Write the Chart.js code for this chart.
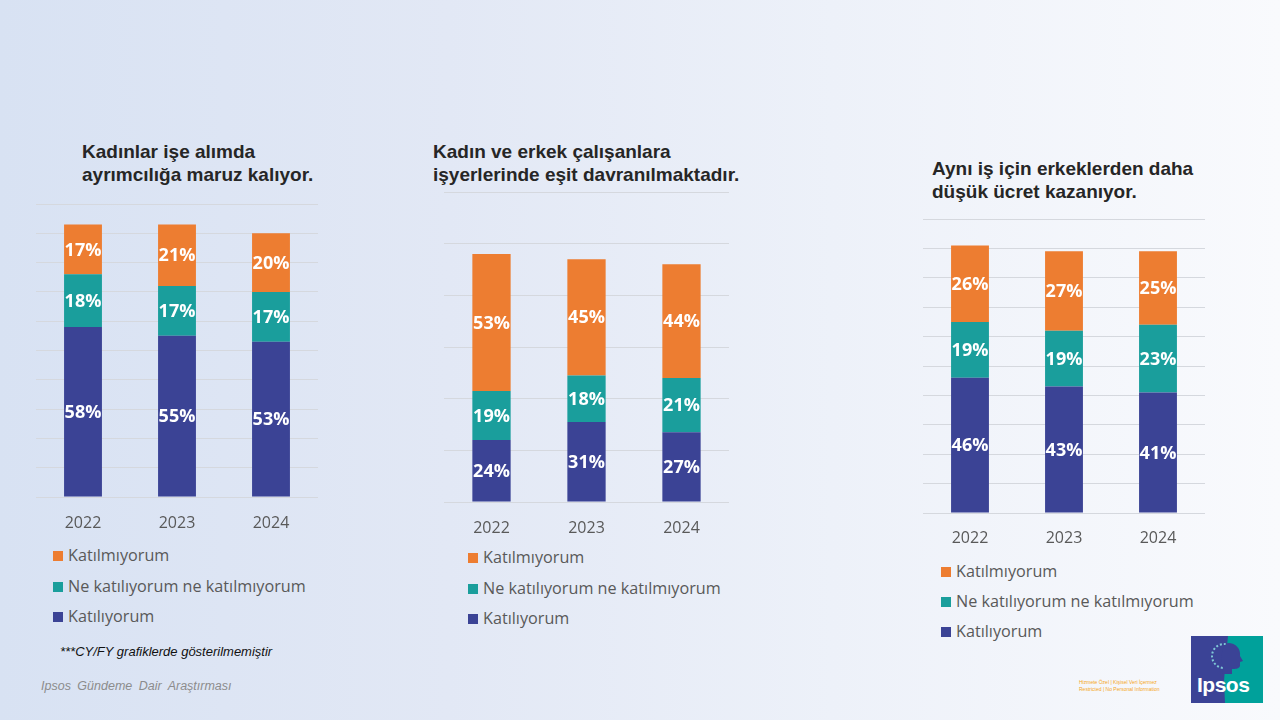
<!DOCTYPE html>
<html><head><meta charset="utf-8">
<script src="https://cdn.jsdelivr.net/npm/chart.js"></script>
<style>
html,body{margin:0;padding:0;}
body{width:1280px;height:720px;overflow:hidden;position:relative;
 background:linear-gradient(90deg,#d8e2f3 0%,#e2e8f5 35%,#edf1f9 65%,#f9fafd 100%);
 font-family:"Open Sans",sans-serif;}
.title{position:absolute;font-family:"Liberation Sans",Arial,sans-serif;font-weight:bold;font-size:19px;line-height:23px;color:#262626;letter-spacing:0px;white-space:nowrap;}
canvas{position:absolute;}
.legend{position:absolute;font-family:"Open Sans",sans-serif;font-size:16.2px;color:#595959;}
.legend .item{position:absolute;left:0;height:20px;line-height:20px;white-space:nowrap;}
.legend .sw{position:absolute;left:0;top:5px;width:10px;height:10px;}
.legend .txt{position:absolute;left:15px;top:-1px;}
.note{position:absolute;font-family:"Liberation Sans",Arial,sans-serif;font-style:italic;white-space:nowrap;}
#logo{position:absolute;left:1191px;top:636px;width:72px;height:67px;background:#00a19b;overflow:hidden;}
#logo .blue{position:absolute;left:0;top:0;width:72px;height:67px;background:#3b4396;clip-path:polygon(0 0,37px 0,35px 20px,33px 45px,34px 67px,0 67px);}
#logo .word{position:absolute;left:6px;top:37px;font-family:"Liberation Sans",Arial,sans-serif;font-weight:bold;font-size:21px;color:#fff;letter-spacing:-0.5px;}
#restricted{position:absolute;left:1079px;top:679px;font-family:"Liberation Sans",Arial,sans-serif;font-size:5px;line-height:7px;color:#f5a623;white-space:nowrap;}
</style>
</head>
<body>
<div id="titles"></div>
<canvas id="c1" width="282" height="343" style="left:36px;top:194px;width:282px;height:343px"></canvas>
<canvas id="c2" width="285" height="360" style="left:444px;top:182px;width:285px;height:360px"></canvas>
<canvas id="c3" width="282" height="344" style="left:923px;top:209px;width:282px;height:344px"></canvas>
<div id="legends"></div>
<div class="note" style="left:60px;top:644px;font-size:13px;color:#111;">***CY/FY grafiklerde gösterilmemiştir</div>
<div class="note" style="left:41px;top:679px;font-size:12.5px;color:#8c8c8c;word-spacing:3px;">Ipsos Gündeme Dair Araştırması</div>
<div id="restricted">Hizmete Özel | Kişisel Veri İçermez<br>Restricted | No Personal Information</div>
<div id="logo"><div class="blue"></div>
<svg width="72" height="67" style="position:absolute;left:0;top:0">
<circle cx="33" cy="20" r="12" fill="none" stroke="#7fc8d6" stroke-width="2" stroke-dasharray="2 2"/>
<path d="M37 7 C45 7 50 13 49 20 L52 25 L49 26 L49 30 C48 33 44 33 41 33 L41 38 L31 38 L33 30 C29 26 30 10 37 7 Z" fill="#3b4396"/>
</svg>
<div class="word">Ipsos</div></div>
<script>
const categories = ['2022', '2023', '2024'];
const seriesNames = ['Katılıyorum', 'Ne katılıyorum ne katılmıyorum', 'Katılmıyorum'];
const seriesColors = ['#3b4395', '#1a9e9c', '#ed7d31'];

const chart1Title = ['Kadınlar işe alımda', 'ayrımcılığa maruz kalıyor.'];
const chart1Agree = [58, 55, 53];
const chart1Neutral = [18, 17, 17];
const chart1Disagree = [17, 21, 20];

const chart2Title = ['Kadın ve erkek çalışanlara', 'işyerlerinde eşit davranılmaktadır.'];
const chart2Agree = [24, 31, 27];
const chart2Neutral = [19, 18, 21];
const chart2Disagree = [53, 45, 44];

const chart3Title = ['Aynı iş için erkeklerden daha', 'düşük ücret kazanıyor.'];
const chart3Agree = [46, 43, 41];
const chart3Neutral = [19, 19, 23];
const chart3Disagree = [26, 27, 25];

const valueLabels = {
  id: 'valueLabels',
  afterDatasetsDraw(chart) {
    const ctx = chart.ctx;
    ctx.save();
    ctx.font = 'bold 18px "Open Sans"';
    ctx.fillStyle = '#ffffff';
    ctx.textAlign = 'center';
    ctx.textBaseline = 'middle';
    chart.data.datasets.forEach((ds, i) => {
      const meta = chart.getDatasetMeta(i);
      meta.data.forEach((el, j) => {
        ctx.fillText(ds.data[j] + '%', el.x, (el.y + el.base) / 2 + 1);
      });
    });
    ctx.restore();
  }
};

function makeChart(id, agree, neutral, disagree, yMax, step, padTop, tickPad) {
  const values = [agree, neutral, disagree];
  new Chart(document.getElementById(id), {
    type: 'bar',
    data: {
      labels: categories,
      datasets: values.map((v, i) => ({
        label: seriesNames[i],
        data: v,
        backgroundColor: seriesColors[i],
        borderWidth: 0,
        categoryPercentage: 1,
        barPercentage: 0.403
      }))
    },
    options: {
      responsive: false,
      animation: false,
      layout: { padding: { top: padTop, left: 0, right: 0, bottom: 0 } },
      plugins: { legend: { display: false }, tooltip: { enabled: false } },
      scales: {
        x: {
          stacked: true,
          grid: { display: false, drawTicks: false },
          border: { display: false },
          ticks: { color: '#595959', font: { family: 'Open Sans', size: 16 }, padding: tickPad },
          afterFit: (a) => { a.height = 40; }
        },
        y: {
          stacked: true,
          min: 0, max: yMax,
          ticks: { display: false, stepSize: step },
          grid: { color: '#d5d8de', lineWidth: 1, drawTicks: false },
          border: { display: false },
          afterFit: (a) => { a.width = 0; }
        }
      }
    },
    plugins: [valueLabels]
  });
}

makeChart('c1', chart1Agree, chart1Neutral, chart1Disagree, 100, 10, 10, 17);
makeChart('c2', chart2Agree, chart2Neutral, chart2Disagree, 120, 20, 10, 17);
makeChart('c3', chart3Agree, chart3Neutral, chart3Disagree, 100, 10, 10, 16);

// titles
const titleSpecs = [[chart1Title, 82, 140], [chart2Title, 433, 140], [chart3Title, 932, 157]];
const tBox = document.getElementById('titles');
titleSpecs.forEach(([lines, x, y]) => {
  const d = document.createElement('div');
  d.className = 'title';
  d.style.left = x + 'px'; d.style.top = y + 'px';
  d.innerHTML = lines.join('<br>');
  tBox.appendChild(d);
});

// legends (top to bottom: reversed series order)
const legendSpecs = [[53, 546, 30.5], [468, 548, 30.5], [941, 562, 30]];
const lBox = document.getElementById('legends');
legendSpecs.forEach(([x, y, gap]) => {
  const lg = document.createElement('div');
  lg.className = 'legend';
  lg.style.left = x + 'px'; lg.style.top = y + 'px';
  [2, 1, 0].forEach((si, k) => {
    const it = document.createElement('div');
    it.className = 'item';
    it.style.top = (k * gap) + 'px';
    it.innerHTML = '<span class="sw" style="background:' + seriesColors[si] + '"></span><span class="txt">' + seriesNames[si] + '</span>';
    lg.appendChild(it);
  });
  lBox.appendChild(lg);
});
</script>
</body></html>
